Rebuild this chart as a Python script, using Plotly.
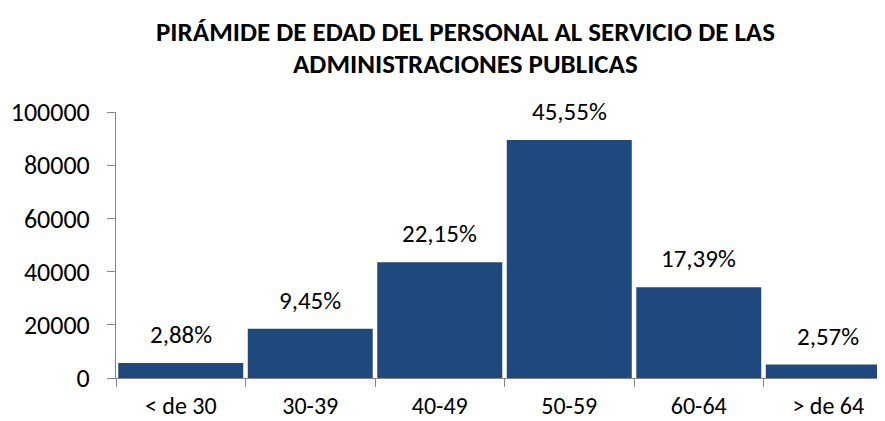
import plotly.graph_objects as go

categories = ["< de 30", "30-39", "40-49", "50-59", "60-64", "> de 64"]
values = [5660, 18560, 43510, 89470, 34160, 5050]
pct_labels = ["2,88%", "9,45%", "22,15%", "45,55%", "17,39%", "2,57%"]
y_ticks = [0, 20000, 40000, 60000, 80000, 100000]
title_lines = ["PIRÁMIDE DE EDAD DEL PERSONAL AL SERVICIO DE LAS",
               "ADMINISTRACIONES PUBLICAS"]

FONT = "Carlito, Lato, 'Open Sans', sans-serif"

fig = go.Figure()
fig.add_trace(go.Bar(
    x=categories, y=values,
    marker=dict(color="#1F497D", line=dict(width=0)),
    hoverinfo="skip",
))

for c, v, t in zip(categories, values, pct_labels):
    fig.add_annotation(x=c, y=v, text=t, showarrow=False, yanchor="bottom",
                       yshift=11, font=dict(family=FONT, size=25, color="#000000"))

for yy, line in zip([1.301, 1.184], title_lines):
    fig.add_annotation(x=0.455, y=yy, xref="paper", yref="paper", text="<b>%s</b>" % line,
                       showarrow=False, xanchor="center", yanchor="middle",
                       font=dict(family=FONT, size=27, color="#000000"))

fig.update_layout(
    width=877, height=413,
    margin=dict(l=108, r=0, t=104, b=43),
    paper_bgcolor="white", plot_bgcolor="white",
    bargap=0.035,
    showlegend=False,
    font=dict(family=FONT, size=25, color="#000000"),
)

fig.update_xaxes(
    type="category", range=[-0.5, 5.438],
    showline=True, linecolor="#868686", linewidth=1,
    ticks="outside", tickson="boundaries", ticklen=8, tickcolor="#868686",
    ticklabelstandoff=6,
    showgrid=False, zeroline=False, automargin=False,
    tickfont=dict(family=FONT, size=24, color="#000000"),
)
fig.update_yaxes(
    range=[0, 100000], tickvals=y_ticks, ticktext=[str(v) for v in y_ticks],
    showline=True, linecolor="#868686", linewidth=1,
    ticks="outside", ticklen=8, tickcolor="#868686",
    ticklabelstandoff=12,
    showgrid=False, zeroline=False, automargin=False,
    tickfont=dict(family=FONT, size=26, color="#000000"),
)

fig.write_html("out.html")
